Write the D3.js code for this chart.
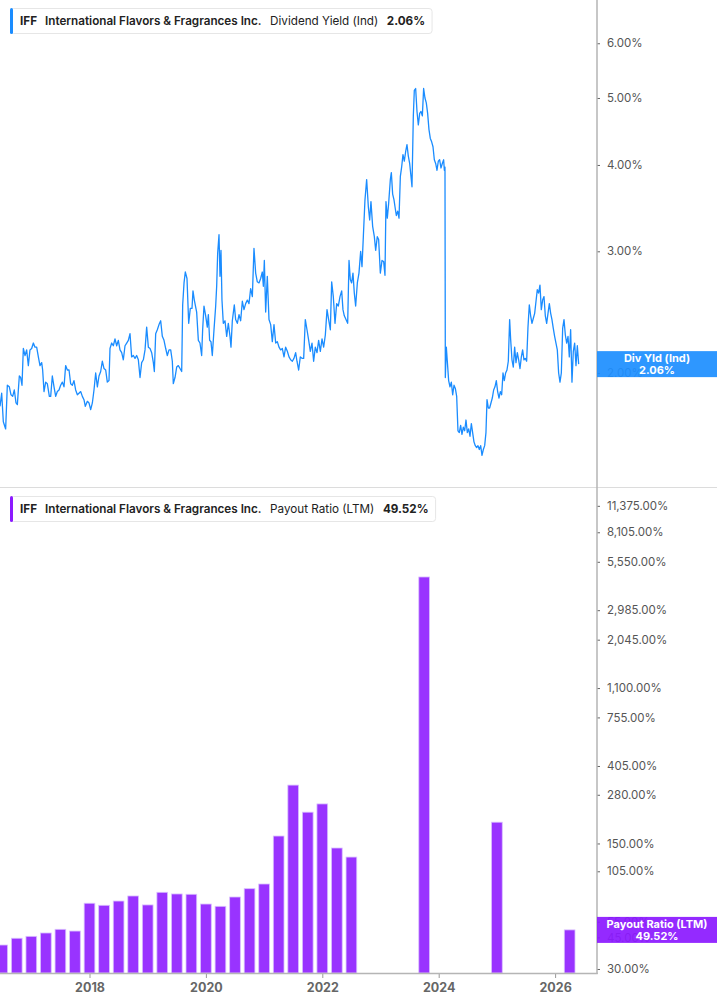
<!DOCTYPE html>
<html>
<head>
<meta charset="utf-8">
<script src="https://cdn.jsdelivr.net/npm/d3@7"></script>
<style>
  body { margin: 0; background: #fff; }
  svg { display: block; font-family: Inter, "Noto Sans", sans-serif; }
</style>
</head>
<body>
<div id="chart"></div>
<script>
// dividend yield (Ind), % -- [decimal year, value]
var divYieldSeries = [
  [2016.462,1.79],[2016.491,1.87],[2016.519,1.70],[2016.559,1.66],[2016.588,1.92],[2016.622,1.91],[2016.651,1.86],[2016.680,1.85],[2016.708,1.89],[2016.737,1.81],
  [2016.760,1.80],[2016.794,1.98],[2016.817,1.97],[2016.840,1.92],[2016.863,2.17],[2016.892,2.12],[2016.920,2.16],[2016.949,2.05],[2016.977,2.16],[2017.006,2.17],
  [2017.035,2.21],[2017.063,2.18],[2017.092,2.18],[2017.121,2.11],[2017.149,2.05],[2017.178,2.07],[2017.195,2.02],[2017.218,1.88],[2017.247,1.94],[2017.275,1.93],
  [2017.310,1.85],[2017.333,1.85],[2017.361,1.98],[2017.390,1.91],[2017.419,1.85],[2017.447,1.88],[2017.476,1.89],[2017.504,1.92],[2017.533,1.94],[2017.562,1.91],
  [2017.590,2.05],[2017.619,2.02],[2017.648,2.02],[2017.676,1.93],[2017.705,1.92],[2017.733,1.95],[2017.762,1.89],[2017.791,1.86],[2017.819,1.87],[2017.848,1.88],
  [2017.877,1.85],[2017.905,1.83],[2017.928,1.79],[2017.963,1.82],[2017.991,1.81],[2018.020,1.77],[2018.049,1.81],[2018.077,1.89],[2018.106,2.00],[2018.135,1.91],
  [2018.163,1.98],[2018.192,2.01],[2018.220,2.08],[2018.249,2.03],[2018.278,2.02],[2018.306,1.94],[2018.335,1.95],[2018.352,2.17],[2018.381,2.21],[2018.409,2.19],
  [2018.438,2.24],[2018.467,2.19],[2018.495,2.23],[2018.524,2.16],[2018.553,2.14],[2018.581,2.09],[2018.610,2.19],[2018.639,2.21],[2018.667,2.23],[2018.696,2.28],
  [2018.724,2.11],[2018.753,2.12],[2018.782,2.10],[2018.810,2.12],[2018.839,2.09],[2018.868,1.97],[2018.896,2.07],[2018.925,2.09],[2018.954,2.16],[2018.982,2.33],
  [2019.011,2.18],[2019.040,2.17],[2019.068,2.14],[2019.097,2.07],[2019.114,2.01],[2019.137,2.28],[2019.165,2.31],[2019.194,2.35],[2019.223,2.38],[2019.251,2.26],
  [2019.280,2.23],[2019.309,2.17],[2019.337,2.12],[2019.366,2.16],[2019.395,2.16],[2019.423,2.08],[2019.440,1.93],[2019.469,1.97],[2019.498,2.04],[2019.526,2.05],
  [2019.555,2.03],[2019.584,2.01],[2019.601,2.51],[2019.624,2.70],[2019.646,2.80],[2019.675,2.74],[2019.704,2.36],[2019.732,2.48],[2019.761,2.48],[2019.778,2.63],
  [2019.801,2.55],[2019.841,2.45],[2019.870,2.23],[2019.898,2.21],[2019.927,2.12],[2019.944,2.31],[2019.967,2.50],[2019.996,2.42],[2020.024,2.33],[2020.042,2.43],
  [2020.064,2.23],[2020.087,2.22],[2020.110,2.12],[2020.139,2.31],[2020.168,2.50],[2020.185,2.67],[2020.202,2.98],[2020.225,3.17],[2020.242,2.76],[2020.259,3.01],
  [2020.276,2.55],[2020.299,2.36],[2020.328,2.38],[2020.357,2.26],[2020.385,2.36],[2020.414,2.26],[2020.431,2.18],[2020.454,2.38],[2020.488,2.51],[2020.511,2.39],
  [2020.540,2.36],[2020.569,2.43],[2020.597,2.38],[2020.626,2.54],[2020.654,2.47],[2020.683,2.52],[2020.712,2.55],[2020.740,2.52],[2020.769,2.65],[2020.798,2.58],
  [2020.826,3.03],[2020.855,2.79],[2020.883,2.71],[2020.912,2.70],[2020.941,2.74],[2020.969,2.80],[2020.987,2.67],[2021.004,2.91],[2021.027,2.45],[2021.055,2.76],
  [2021.084,2.39],[2021.113,2.35],[2021.141,2.22],[2021.170,2.35],[2021.199,2.21],[2021.227,2.22],[2021.256,2.18],[2021.284,2.16],[2021.313,2.17],[2021.342,2.11],
  [2021.370,2.18],[2021.399,2.15],[2021.428,2.11],[2021.456,2.09],[2021.485,2.08],[2021.513,2.10],[2021.542,2.14],[2021.565,2.08],[2021.594,2.02],[2021.622,2.11],
  [2021.651,2.10],[2021.680,2.10],[2021.708,2.39],[2021.737,2.31],[2021.766,2.23],[2021.794,2.15],[2021.823,2.21],[2021.851,2.08],[2021.880,2.18],[2021.909,2.14],
  [2021.937,2.23],[2021.966,2.15],[2021.995,2.24],[2022.023,2.18],[2022.052,2.27],[2022.081,2.47],[2022.109,2.39],[2022.138,2.31],[2022.161,2.71],[2022.189,2.58],
  [2022.218,2.36],[2022.247,2.52],[2022.275,2.50],[2022.304,2.58],[2022.333,2.63],[2022.355,2.47],[2022.378,2.42],[2022.407,2.39],[2022.436,2.36],[2022.459,2.91],
  [2022.481,2.73],[2022.504,2.70],[2022.527,2.79],[2022.550,2.61],[2022.573,2.50],[2022.602,2.70],[2022.630,2.79],[2022.659,3.00],[2022.682,2.85],[2022.705,3.15],
  [2022.733,3.56],[2022.762,3.81],[2022.791,3.48],[2022.814,3.33],[2022.836,3.54],[2022.865,3.26],[2022.894,3.15],[2022.917,3.01],[2022.945,3.15],[2022.968,3.12],
  [2022.997,2.79],[2023.026,2.91],[2023.054,2.90],[2023.077,2.77],[2023.094,3.54],[2023.117,3.35],[2023.140,3.52],[2023.169,3.81],[2023.186,3.90],[2023.209,3.63],
  [2023.232,3.56],[2023.249,3.48],[2023.272,3.38],[2023.295,3.43],[2023.318,3.35],[2023.341,3.85],[2023.363,3.97],[2023.386,4.14],[2023.409,4.05],[2023.432,4.18],
  [2023.455,4.28],[2023.478,4.12],[2023.501,4.02],[2023.524,3.85],[2023.541,3.72],[2023.564,4.71],[2023.581,5.13],[2023.604,5.16],[2023.627,4.78],[2023.650,4.57],
  [2023.673,4.75],[2023.696,4.78],[2023.719,4.71],[2023.741,5.16],[2023.764,5.00],[2023.787,4.92],[2023.810,4.75],[2023.833,4.50],[2023.856,4.37],[2023.879,4.32],
  [2023.902,4.25],[2023.925,4.07],[2023.948,4.02],[2023.971,3.93],[2023.993,4.05],[2024.016,4.07],[2024.039,3.96],[2024.062,4.02],[2024.085,4.07],[2024.097,3.93],
  [2024.108,3.97],[2024.114,1.97],[2024.131,2.18],[2024.148,2.08],[2024.171,1.95],[2024.194,1.91],[2024.217,1.94],[2024.240,1.86],[2024.263,1.92],[2024.286,1.90],
  [2024.309,1.85],[2024.331,1.65],[2024.354,1.64],[2024.377,1.68],[2024.400,1.63],[2024.423,1.67],[2024.446,1.65],[2024.469,1.71],[2024.492,1.64],[2024.515,1.66],
  [2024.538,1.62],[2024.561,1.69],[2024.583,1.64],[2024.606,1.59],[2024.629,1.57],[2024.652,1.56],[2024.675,1.57],[2024.698,1.55],[2024.721,1.57],[2024.744,1.52],
  [2024.767,1.55],[2024.790,1.57],[2024.812,1.64],[2024.830,1.83],[2024.853,1.78],[2024.875,1.78],[2024.898,1.81],[2024.921,1.84],[2024.944,1.89],[2024.967,1.91],
  [2024.990,1.95],[2025.013,1.88],[2025.036,1.84],[2025.059,1.88],[2025.082,1.86],[2025.105,2.00],[2025.127,1.95],[2025.150,2.00],[2025.173,2.02],[2025.196,2.08],
  [2025.219,2.39],[2025.236,2.24],[2025.259,2.09],[2025.282,2.04],[2025.305,2.18],[2025.328,2.07],[2025.351,2.14],[2025.374,2.09],[2025.397,2.03],[2025.420,2.11],
  [2025.442,2.16],[2025.465,2.09],[2025.488,2.10],[2025.511,2.08],[2025.534,2.33],[2025.557,2.51],[2025.580,2.42],[2025.603,2.36],[2025.626,2.40],[2025.649,2.44],
  [2025.672,2.54],[2025.694,2.64],[2025.717,2.61],[2025.740,2.68],[2025.763,2.47],[2025.786,2.55],[2025.809,2.58],[2025.832,2.42],[2025.855,2.36],[2025.878,2.44],
  [2025.901,2.52],[2025.924,2.44],[2025.946,2.39],[2025.969,2.32],[2025.992,2.26],[2026.015,2.21],[2026.038,2.16],[2026.061,2.00],[2026.084,1.94],[2026.107,2.00],
  [2026.130,2.32],[2026.153,2.39],[2026.176,2.27],[2026.199,2.21],[2026.222,2.26],[2026.244,2.11],[2026.267,2.31],[2026.290,1.94],[2026.313,2.15],[2026.336,2.21],
  [2026.359,2.05],[2026.382,2.19],[2026.405,2.06]
];

// payout ratio (LTM), % by fiscal quarter
var payoutQuarters = ["2016Q2","2016Q3","2016Q4","2017Q1","2017Q2","2017Q3","2017Q4",
  "2018Q1","2018Q2","2018Q3","2018Q4","2019Q1","2019Q2","2019Q3","2019Q4",
  "2020Q1","2020Q2","2020Q3","2020Q4","2021Q1","2021Q2","2021Q3","2021Q4",
  "2022Q1","2022Q2","2023Q3","2024Q4","2026Q1"];
var payoutValues = [40.8, 44.5, 45.6, 47.6, 49.9, 48.8, 69.7,
  67.9, 71.7, 76.5, 68.2, 80.2, 78.5, 78.2, 69.0,
  67.0, 75.5, 84.0, 89.2, 165, 317, 224, 249,
  141.5, 126, 4569, 197, 49.52];

var yieldTicks = [2, 3, 4, 5, 6];
var payoutTicks = [30, 45, 55, 105, 150, 280, 405, 755, 1100, 2045, 2985, 5550, 8105, 11375];
var yearTicks = [2018, 2020, 2022, 2024, 2026];

var lastYield = 2.06;
var lastPayout = 49.52;

// layout
var svgWidth = 717, svgHeight = 1005;
var plotRight = 597;
var topPanel = {top: 0, bottom: 487};
var botPanel = {top: 490, bottom: 973};

var svg = d3.select("#chart").append("svg")
  .attr("width", svgWidth)
  .attr("height", svgHeight);

var x = d3.scaleLinear()
  .domain([2016.462, 2026.72])
  .range([0, plotRight]);

var yTop = d3.scaleLog()
  .domain([1.368, 6.93])
  .range([topPanel.bottom, topPanel.top]);

var yBot = d3.scaleLog()
  .domain([28.5, 13935])
  .range([botPanel.bottom, botPanel.top]);

var pct = d3.format(",.2f");

svg.append("defs").append("clipPath").attr("id", "clipTop")
  .append("rect").attr("x", 0).attr("y", 0).attr("width", plotRight).attr("height", topPanel.bottom);

// panel separator
svg.append("line")
  .attr("x1", 0).attr("x2", svgWidth)
  .attr("y1", topPanel.bottom + 0.5).attr("y2", topPanel.bottom + 0.5)
  .attr("stroke", "#dcdcdc");

// dividend yield line
var line = d3.line()
  .x(d => x(d[0]))
  .y(d => yTop(d[1]));

svg.append("path")
  .datum(divYieldSeries)
  .attr("clip-path", "url(#clipTop)")
  .attr("fill", "none")
  .attr("stroke", "#1a8cff")
  .attr("stroke-width", 1.3)
  .attr("stroke-linejoin", "round")
  .attr("d", line);

// payout bars
function quarterEnd(q) {
  return +q.slice(0, 4) + (+q.slice(5)) * 0.25;
}
var barW = 10.7;
svg.append("g").selectAll("rect")
  .data(payoutQuarters)
  .enter()
  .append("rect")
  .attr("x", (d) => x(quarterEnd(d)) - barW / 2)
  .attr("y", (d, i) => yBot(payoutValues[i]))
  .attr("width", barW)
  .attr("height", (d, i) => botPanel.bottom - yBot(payoutValues[i]))
  .attr("fill", "#9933ff")
  .attr("stroke", "#d9bfff")
  .attr("stroke-width", 0.8);

// right axes
function styleYAxis(g) {
  g.select(".domain").remove();
  g.selectAll(".tick line").attr("stroke", "#666");
  g.selectAll(".tick text")
    .attr("fill", "#555")
    .attr("font-size", 11.5)
    .attr("font-family", "Inter, sans-serif");
}

svg.append("g")
  .attr("transform", `translate(${plotRight}, 0)`)
  .call(d3.axisRight(yTop).tickValues(yieldTicks).tickSize(3).tickPadding(7)
    .tickFormat(d => pct(d) + "%"))
  .call(styleYAxis);

svg.append("g")
  .attr("transform", `translate(${plotRight}, 0)`)
  .call(d3.axisRight(yBot).tickValues(payoutTicks).tickSize(3).tickPadding(7)
    .tickFormat(d => pct(d) + "%"))
  .call(styleYAxis);

svg.append("line")
  .attr("x1", plotRight).attr("x2", plotRight)
  .attr("y1", 0).attr("y2", botPanel.bottom + 1)
  .attr("stroke", "#b5b5b5")
  .attr("stroke-width", 1.5);

// bottom axis
var xAxisG = svg.append("g")
  .attr("transform", `translate(0, ${botPanel.bottom})`)
  .call(d3.axisBottom(x).tickValues(yearTicks).tickSize(5).tickPadding(5)
    .tickFormat(d3.format("d")));
xAxisG.select(".domain").remove();
xAxisG.selectAll(".tick line").attr("stroke", "#999");
xAxisG.selectAll(".tick text")
  .attr("fill", "#666")
  .attr("font-size", 12.5)
  .attr("font-weight", 700)
  .attr("font-family", "Inter, sans-serif");

svg.append("line")
  .attr("x1", 0).attr("x2", plotRight + 0.75)
  .attr("y1", botPanel.bottom + 0.5).attr("y2", botPanel.bottom + 0.5)
  .attr("stroke", "#b5b5b5")
  .attr("stroke-width", 1.5);

// value badges on the right axis (slightly see-through, like the original)
function badge(yPos, fill, label, value) {
  var g = svg.append("g");
  g.append("rect")
    .attr("x", plotRight).attr("y", yPos - 13)
    .attr("width", svgWidth - plotRight).attr("height", 26)
    .attr("fill", fill)
    .attr("fill-opacity", 0.93);
  g.append("text")
    .attr("x", (plotRight + svgWidth) / 2).attr("y", yPos - 2)
    .attr("text-anchor", "middle")
    .attr("fill", "#fff").attr("font-size", 11).attr("font-weight", 700)
    .text(label);
  g.append("text")
    .attr("x", (plotRight + svgWidth) / 2).attr("y", yPos + 10)
    .attr("text-anchor", "middle")
    .attr("fill", "#fff").attr("font-size", 11).attr("font-weight", 700)
    .text(value);
}
badge(yTop(lastYield), "#1e8fff", "Div Yld (Ind)", pct(lastYield) + "%");
badge(yBot(lastPayout), "#8c1aff", "Payout Ratio (LTM)", pct(lastPayout) + "%");

// legend boxes
function legend(top, accent, metric, value) {
  var g = svg.append("g");
  var box = g.append("rect")
    .attr("x", 10.5).attr("y", top + 0.5)
    .attr("height", 25)
    .attr("rx", 3)
    .attr("fill", "#fff")
    .attr("stroke", "#e6e6e6");
  g.append("rect")
    .attr("x", 10).attr("y", top)
    .attr("width", 3).attr("height", 26)
    .attr("rx", 1.5)
    .attr("fill", accent);
  var base = top + 17;
  var parts = [
    {t: "IFF", w: 700, gap: 8},
    {t: "International Flavors & Fragrances Inc.", w: 600, gap: 8.5},
    {t: metric, w: 400, gap: 8.5},
    {t: value, w: 700, gap: 0}
  ];
  var cx = 20;
  parts.forEach(function(p) {
    var t = g.append("text").attr("x", cx).attr("y", base)
      .attr("font-size", 11.7).attr("font-weight", p.w).attr("fill", "#222")
      .text(p.t);
    cx += t.node().getComputedTextLength() + p.gap;
  });
  box.attr("width", cx + 7 - 10.5);
}
legend(8, "#1a8cff", "Dividend Yield (Ind)", pct(lastYield) + "%");
legend(496, "#8c1aff", "Payout Ratio (LTM)", pct(lastPayout) + "%");
</script>
</body>
</html>
